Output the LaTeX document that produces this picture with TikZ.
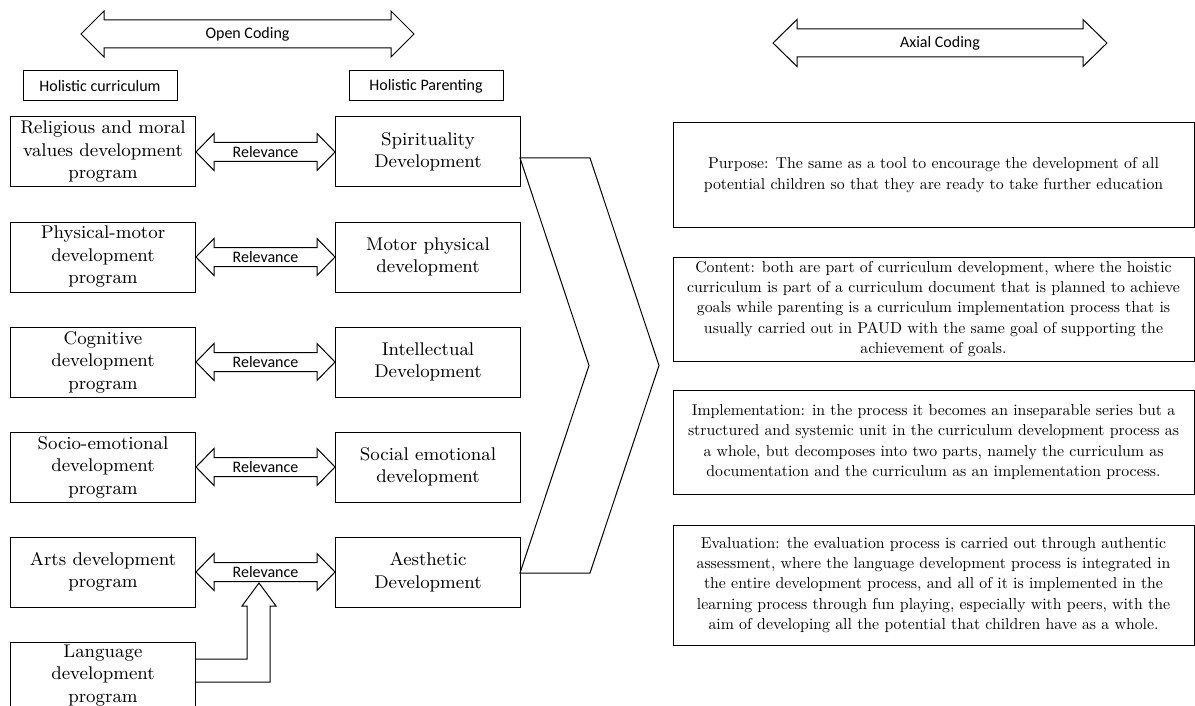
\documentclass[tikz,border=0pt]{standalone}
\usepackage{fontspec}
\newfontfamily\calibri{Carlito}
\newfontfamily\axfont{lmroman10-regular.otf}
\usetikzlibrary{positioning}
\usetikzlibrary{calc}

\tikzset{
	prog/.style={draw, line width=0.5pt, minimum width=92.5pt, minimum height=35pt, inner sep=1pt, align=center, font=\fontsize{9.2}{11.25}\selectfont},
	headbox/.style={draw, line width=0.5pt, minimum width=77pt, minimum height=15pt, inner sep=1pt, font=\calibri\fontsize{8}{9.6}\selectfont},
	axbox/.style={draw, line width=0.5pt, minimum width=260.5pt, minimum height=52pt, inner sep=1pt, align=center, font=\axfont\fontsize{7.9}{10.2}\selectfont},
	arrtext/.style={inner sep=0pt, font=\calibri\fontsize{8}{9.6}\selectfont}
}
% block arrow with two heads: left tip, right tip, head length, head half width, shaft half width
\newcommand{\blockarrow}[5]{%
	\draw[line width=0.5pt] (#1) -- ($(#1)+(#3,-#4)$) -- ($(#1)+(#3,-#5)$) -- ($(#2)+(-#3,-#5)$)
		-- ($(#2)+(-#3,-#4)$) -- (#2) -- ($(#2)+(-#3,#4)$) -- ($(#2)+(-#3,#5)$)
		-- ($(#1)+(#3,#5)$) -- ($(#1)+(#3,#4)$) -- cycle;}

\begin{document}
\begin{tikzpicture}[x=0.5pt, y=-0.5pt, node distance=17pt]
	\useasboundingbox (0,0) rectangle (1195,706);
	% coding arrows
	\coordinate (openL) at (81,34);
	\coordinate (openR) at (414,34);
	\coordinate (axL) at (773,43);
	\coordinate (axR) at (1107,43);
	\blockarrow{openL}{openR}{23}{23}{14}
	\blockarrow{axL}{axR}{24}{23.5}{14}
	\node[arrtext] (opencod) at ($(openL)!0.5!(openR)$) {Open Coding};
	\node[arrtext] (axial) at ($(axL)!0.5!(axR)$) {Axial Coding};
	\node[headbox] (hcur) at (100,86) {Holistic curriculum};
	\node[headbox] (hpar) at (426,86) {Holistic Parenting};
	% holistic curriculum
	\node[prog] (relig) at (103,152) {Religious and moral\\values development\\program};
	\node[prog] (phys) [below=of relig] {Physical-motor\\development\\program};
	\node[prog] (cogn) [below=of phys] {Cognitive\\development\\program};
	\node[prog] (socio) [below=of cogn] {Socio-emotional\\development\\program};
	\node[prog] (arts) [below=of socio] {Arts development\\program};
	\node[prog, minimum height=33.5pt] (lang) [below=of arts] {Language\\development\\program};
	% holistic parenting
	\node[prog] (spir) [right=69.5pt of relig] {Spirituality\\Development};
	\node[prog] (motor) [right=69.5pt of phys] {Motor physical\\development};
	\node[prog] (intel) [right=69.5pt of cogn] {Intellectual\\Development};
	\node[prog] (social) [right=69.5pt of socio] {Social emotional\\development};
	\node[prog] (aest) [right=69.5pt of arts] {Aesthetic\\Development};
	% relevance
	\foreach \a/\b/\n in {relig/spir/1, phys/motor/2, cogn/intel/3, socio/social/4, arts/aest/5} {
		\blockarrow{\a.east}{\b.west}{18}{18.5}{9.5}
		\node[arrtext] (rel\n) at ($(\a.east)!0.5!(\b.west)$) {Relevance};
	}
	\coordinate (langtip) at (259,583);
	\draw[line width=0.5pt] (lang.east |- 0,659) -- (247,659) -- (247,606) -- (242,606) -- (langtip)
		-- (276,606) -- (270,606) -- (270,682) -- (lang.east |- 0,682);
	% chevron
	\draw[line width=0.5pt] (520,158) -- (590,158) -- (659,365.5) -- (590,573) -- (520,573) -- (589,365.5) -- cycle;
	% axial coding
	\node[axbox] (purpose) at (933.5,175) {Purpose: The same as a tool to encourage the development of all\\potential children so that they are ready to take further education};
	\node[axbox] (content) [below=14.5pt of purpose] {Content: both are part of curriculum development, where the hoistic\\curriculum is part of a curriculum document that is planned to achieve\\goals while parenting is a curriculum implementation process that is\\usually carried out in PAUD with the same goal of supporting the\\achievement of goals.};
	\node[axbox] (impl) [below=14pt of content] {Implementation: in the process it becomes an inseparable series but a\\structured and systemic unit in the curriculum development process as\\a whole, but decomposes into two parts, namely the curriculum as\\documentation and the curriculum as an implementation process.};
	\node[axbox, minimum height=60pt] (eval) [below=15pt of impl] {Evaluation: the evaluation process is carried out through authentic\\assessment, where the language development process is integrated in\\the entire development process, and all of it is implemented in the\\learning process through fun playing, especially with peers, with the\\aim of developing all the potential that children have as a whole.};
\end{tikzpicture}
\end{document}
